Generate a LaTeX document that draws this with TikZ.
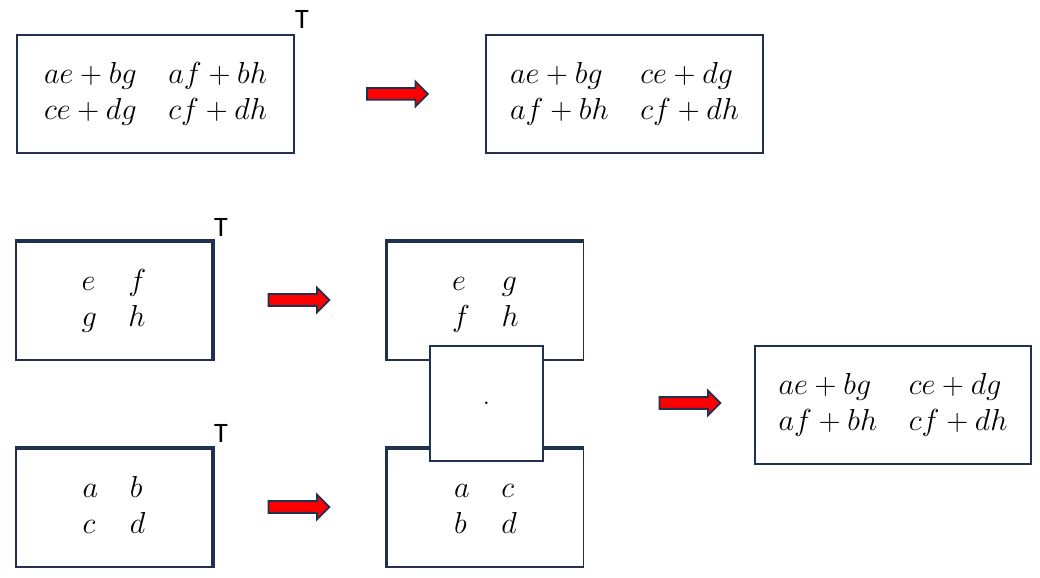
\documentclass[tikz,border=0pt]{standalone}
\usepackage{fontspec}
\setsansfont{Carlito}
\usepackage{tikz}
\usetikzlibrary{shapes.arrows, positioning}
\definecolor{mynavy}{HTML}{1F3050}
\definecolor{myred}{HTML}{FF0000}
\setlength{\arraycolsep}{9pt}
\tikzset{
	matbox/.style={draw=mynavy, line width=1.1pt, fill=white,
			minimum width=5.54cm, minimum height=2.36cm, inner sep=0,
			font=\fontsize{17.28}{20.5}\selectfont}
}
\tikzset{
	smallbox/.style={matbox, minimum width=3.92cm}
}
\tikzset{
	edgeline/.style={draw=mynavy, line width=2.2pt}
}
\tikzset{
	redarrow/.style={single arrow, draw=mynavy, line width=1pt, fill=myred,
			minimum height=1.22cm, inner xsep=0, inner ysep=0.1cm,
			single arrow head extend=0.13cm}
}
\tikzset{
	transtext/.style={font=\sffamily\fontsize{16}{19}\selectfont, inner sep=0}
}

\begin{document}
\begin{tikzpicture}
			\useasboundingbox (0,0) rectangle (20.8,-11.56);

			% top row: transpose of the product
			\begin{scope}
				\node[matbox] (prod) at (3.11,-1.88)
				{$\begin{array}{ll} ae+bg & af+bh \\ ce+dg & cf+dh \end{array}$};
				\node[transtext] (t1) at (6.04,-0.38) {T};
				\node[redarrow] (arr1) at (7.89,-1.88) {};
				\node[matbox] (prodT) at (12.49,-1.88)
				{$\begin{array}{ll} ae+bg & ce+dg \\ af+bh & cf+dh \end{array}$};
			\end{scope}

			% left column
			\begin{scope}
				\node[smallbox] (B) at (2.28,-6.02)
				{$\begin{array}{ll} e & f \\ g & h \end{array}$};
				\node[transtext] (t2) at (4.42,-4.54) {T};
				\node[smallbox] (A) at (2.28,-10.16)
				{$\begin{array}{ll} a & b \\ c & d \end{array}$};
				\node[transtext] (t3) at (4.42,-8.66) {T};

				\draw[edgeline] (B.north west) -- (B.north east) -- (B.south east);
				\draw[edgeline] (A.north west) -- (A.north east) -- (A.south east);

				\node[redarrow] (arr2) at (5.92,-6.0) {};
				\node[redarrow] (arr3) at (5.92,-10.14) {};
			\end{scope}

			% middle column
			\begin{scope}
				\node[smallbox] (BT) at (9.71,-6.02)
				{$\begin{array}{ll} e & g \\ f & h \end{array}$};
				\node[smallbox] (AT) at (9.71,-10.16)
				{$\begin{array}{ll} a & c \\ b & d \end{array}$};

				\draw[edgeline] (BT.south west) -- (BT.north west) -- (BT.north east);
				\draw[edgeline] (AT.south west) -- (AT.north west) -- (AT.north east);

				\node[matbox, minimum width=2.26cm, minimum height=2.30cm] (dot) at (9.73,-8.07) {.};
			\end{scope}

			% result
			\node[redarrow] (arr4) at (13.74,-8.06) {};
			\node[matbox, minimum width=5.52cm] (res) at (17.86,-8.10)
			{$\begin{array}{ll} ae+bg & ce+dg \\ af+bh & cf+dh \end{array}$};

		\end{tikzpicture}
\end{document}
